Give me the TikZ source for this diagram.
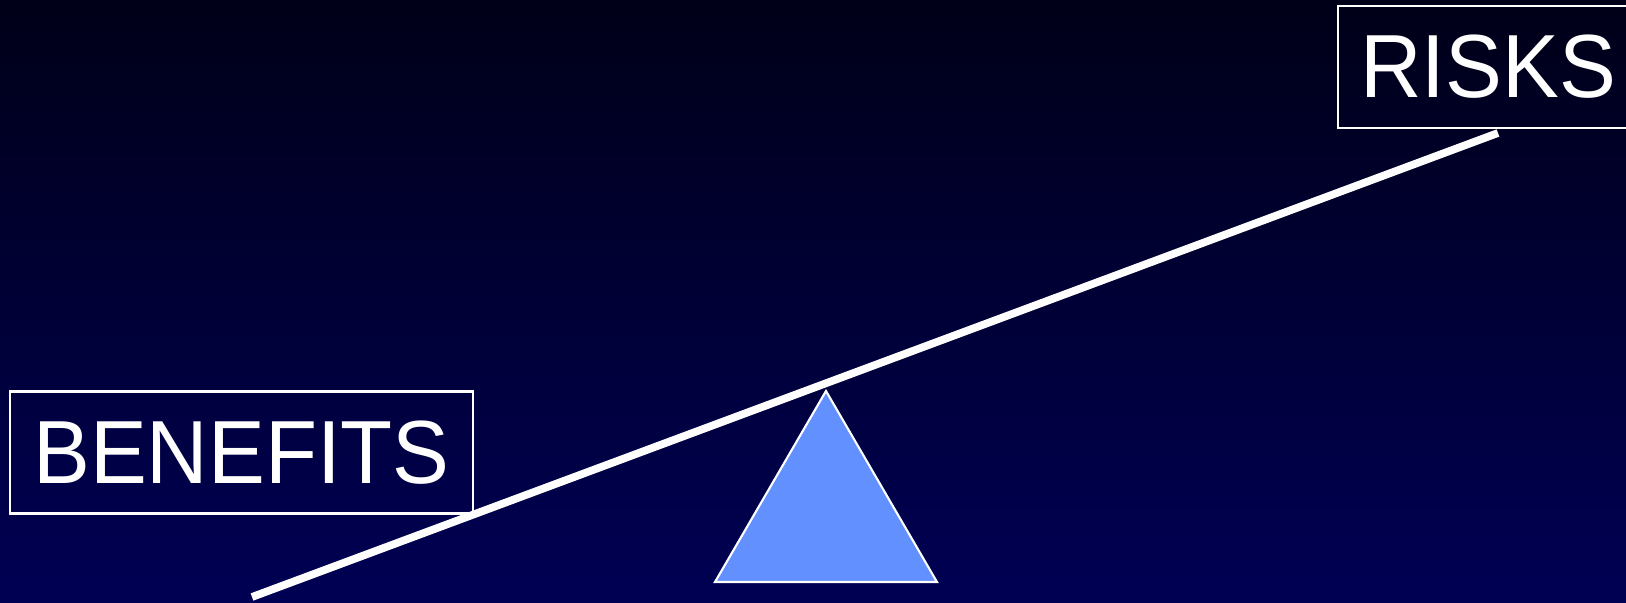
\documentclass[tikz,border=0pt]{standalone}
\usepackage{fontspec}
\setmainfont{Liberation Sans}
\newfontfamily\tagfont[FakeStretch=0.95]{Liberation Sans}
\usetikzlibrary{calc, positioning}

\definecolor{skytop}{RGB}{0,0,24}
\definecolor{skybottom}{RGB}{0,0,84}
\definecolor{pivotblue}{RGB}{98,144,255}

\begin{document}
\begin{tikzpicture}[
            x=0.01cm, y=-0.01cm,
            tag/.style={draw=white, line width=0.6pt, text=white, inner sep=0pt,
                        minimum height=1.22cm, font=\tagfont\fontsize{25.5}{30}\selectfont},
            beam/.style={draw=white, line width=2.2pt},
            pivot/.style={fill=pivotblue, draw=white, line width=0.6pt, line join=miter}
        ]
        % background
        \shade[top color=skytop, bottom color=skybottom] (0,0) rectangle (1626,603);
        \useasboundingbox (0,0) rectangle (1626,603);
        \clip (0,0) rectangle (1626,603);

        % beam resting on the pivot
        \coordinate (low) at (252,597);
        \coordinate (high) at (1498,133);
        \draw[beam] (low) -- (high);

        % pivot
        \coordinate (apex) at (826,391);
        \coordinate (baseL) at (715,582);
        \coordinate (baseR) at (937,582);
        \draw[pivot] (apex) -- (baseR) -- (baseL) -- cycle;

        % labels
        \node[tag, minimum width=4.63cm] (benefits) at (241.5,452.5) {BENEFITS};
        \node[tag, minimum width=3cm] (risks) at (1488,67) {RISKS};
        \end{tikzpicture}
\end{document}
